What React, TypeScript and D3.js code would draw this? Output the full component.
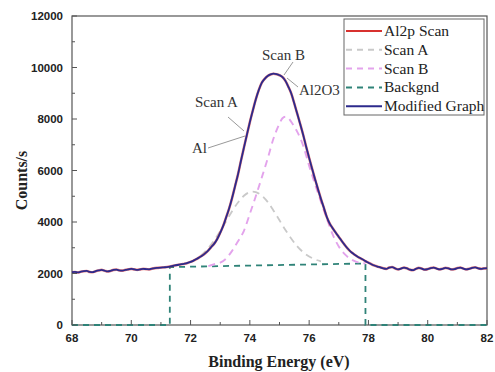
import React from "react";
import * as d3 from "d3";

// ---------- data ----------
const xTicks = [68, 70, 72, 74, 76, 78, 80, 82];
const yTicks = [0, 2000, 4000, 6000, 8000, 10000, 12000];

// Modified graph / Al2p scan: [binding energy (eV), counts/s]
const modifiedGraph: [number, number][] = [
  [68.0, 2050], [68.1, 2060], [68.2, 2040], [68.3, 2070], [68.4, 2090], [68.5, 2100], [68.6, 2060], [68.7, 2050], [68.8, 2090], [68.9, 2120],
  [69.0, 2140], [69.1, 2110], [69.2, 2080], [69.3, 2100], [69.4, 2140], [69.5, 2150], [69.6, 2120], [69.7, 2110], [69.8, 2140], [69.9, 2160],
  [70.0, 2180], [70.1, 2160], [70.2, 2140], [70.3, 2160], [70.4, 2180], [70.5, 2170], [70.6, 2160], [70.7, 2190], [70.8, 2210], [70.9, 2220],
  [71.0, 2230], [71.1, 2240], [71.2, 2250], [71.3, 2270], [71.4, 2300], [71.5, 2320], [71.6, 2340], [71.7, 2360], [71.8, 2380], [71.9, 2410],
  [72.0, 2450], [72.1, 2500], [72.2, 2560], [72.3, 2630], [72.4, 2700], [72.5, 2790], [72.6, 2900], [72.7, 3030], [72.8, 3160], [72.9, 3340],
  [73.0, 3580], [73.1, 3850], [73.2, 4180], [73.3, 4520], [73.4, 4930], [73.5, 5390], [73.6, 5850], [73.7, 6380], [73.8, 6890], [73.9, 7390],
  [74.0, 7880], [74.1, 8330], [74.2, 8760], [74.3, 9120], [74.4, 9400], [74.5, 9560], [74.6, 9670], [74.7, 9730], [74.8, 9760], [74.9, 9740],
  [75.0, 9700], [75.1, 9630], [75.2, 9480], [75.3, 9250], [75.4, 8980], [75.5, 8600], [75.6, 8200], [75.7, 7800], [75.8, 7380], [75.9, 6920],
  [76.0, 6490], [76.1, 6070], [76.2, 5660], [76.3, 5270], [76.4, 4890], [76.5, 4540], [76.6, 4180], [76.7, 3930], [76.8, 3750], [76.9, 3580],
  [77.0, 3420], [77.1, 3260], [77.2, 3110], [77.3, 2970], [77.4, 2850], [77.5, 2760], [77.6, 2680], [77.7, 2610], [77.8, 2550], [77.9, 2480],
  [78.0, 2420], [78.1, 2360], [78.2, 2310], [78.3, 2270], [78.4, 2240], [78.5, 2200], [78.6, 2180], [78.7, 2230], [78.8, 2250], [78.9, 2200],
  [79.0, 2160], [79.1, 2190], [79.2, 2230], [79.3, 2200], [79.4, 2150], [79.5, 2130], [79.6, 2180], [79.7, 2220], [79.8, 2190], [79.9, 2150],
  [80.0, 2170], [80.1, 2210], [80.2, 2230], [80.3, 2190], [80.4, 2160], [80.5, 2180], [80.6, 2220], [80.7, 2200], [80.8, 2160], [80.9, 2170],
  [81.0, 2210], [81.1, 2230], [81.2, 2190], [81.3, 2160], [81.4, 2180], [81.5, 2220], [81.6, 2240], [81.7, 2200], [81.8, 2180], [81.9, 2200],
  [82.0, 2210],
];

// Scan A (Al) component
const scanA: [number, number][] = [
  [72.0, 2450], [72.2, 2575], [72.4, 2750], [72.6, 2990], [72.8, 3290], [73.0, 3645], [73.2, 4030], [73.4, 4420], [73.6, 4760],
  [73.8, 5020], [74.0, 5160], [74.1, 5180], [74.2, 5160], [74.4, 5030], [74.6, 4780], [74.8, 4440], [75.0, 4065], [75.2, 3690],
  [75.4, 3350], [75.6, 3055], [75.8, 2825], [76.0, 2660], [76.2, 2545], [76.4, 2470],
];

// Scan B (Al2O3) component
const scanB: [number, number][] = [
  [72.6, 2290], [72.8, 2360], [73.0, 2420], [73.2, 2580], [73.4, 2880], [73.6, 3250], [73.8, 3660], [74.0, 4320], [74.2, 5000],
  [74.4, 5720], [74.6, 6460], [74.8, 7250], [75.0, 7820], [75.1, 8030], [75.2, 8090], [75.3, 8040], [75.4, 7880], [75.6, 7500],
  [75.8, 6960], [76.0, 6180], [76.2, 5465], [76.4, 4780], [76.6, 4120], [76.8, 3500], [77.0, 3050], [77.2, 2750], [77.4, 2560],
  [77.6, 2450], [77.8, 2400], [77.9, 2390],
];

// Background
const backgnd: [number, number][] = [
  [68.0, 0], [71.3, 0], [71.3, 2250], [77.9, 2390], [77.9, 0], [82.0, 0],
];

const legendItems = [
  { label: "Al2p Scan", color: "#d8312f", dash: "" },
  { label: "Scan A", color: "#c9c9c9", dash: "6,5" },
  { label: "Scan B", color: "#e3a3ec", dash: "6,5" },
  { label: "Backgnd", color: "#2f8378", dash: "6,5" },
  { label: "Modified Graph", color: "#2c2a8c", dash: "" },
];

// ---------- layout ----------
const W = 495;
const H = 372;
const left = 72;
const right = 487;
const top = 16;
const bottom = 325;

export default function App() {
  const x = d3.scaleLinear().domain([68, 82]).range([left, right]);
  const y = d3.scaleLinear().domain([0, 12000]).range([bottom, top]);
  const line = d3
    .line<[number, number]>()
    .x((d) => x(d[0]))
    .y((d) => y(d[1]))
    .curve(d3.curveMonotoneX);
  const lineStraight = d3
    .line<[number, number]>()
    .x((d) => x(d[0]))
    .y((d) => y(d[1]));

  const xMinor = d3.range(69, 82, 2);
  const yMinor = d3.range(1000, 12000, 2000);

  const tickFont = "Liberation Sans";
  const serif = "Liberation Serif";
  const axisColor = "#555";

  return (
    <svg
      width={W}
      height={H}
      style={{ position: "absolute", left: 0, top: 0, background: "#fff" }}
    >
      {/* frame */}
      <rect
        x={left}
        y={top}
        width={right - left}
        height={bottom - top}
        fill="none"
        stroke={axisColor}
        strokeWidth={1.2}
      />

      {/* background */}
      <path
        d={lineStraight(backgnd) || ""}
        fill="none"
        stroke="#2f8378"
        strokeWidth={1.8}
        strokeDasharray="6,5"
      />

      {/* Scan A */}
      <path
        d={line(scanA) || ""}
        fill="none"
        stroke="#c9c9c9"
        strokeWidth={1.8}
        strokeDasharray="7,5"
      />
      {/* Scan B */}
      <path
        d={line(scanB) || ""}
        fill="none"
        stroke="#e3a3ec"
        strokeWidth={1.9}
        strokeDasharray="7,5"
      />

      {/* Al2p scan (red) under modified graph */}
      <path
        d={line(modifiedGraph) || ""}
        fill="none"
        stroke="#d8312f"
        strokeWidth={2.6}
        strokeOpacity={0.6}
      />
      <path
        d={line(modifiedGraph) || ""}
        fill="none"
        stroke="#2c2a8c"
        strokeWidth={1.8}
      />

      {/* axes ticks */}
      {xTicks.map((t) => (
        <g key={"xt" + t}>
          <line x1={x(t)} x2={x(t)} y1={bottom} y2={bottom - 5} stroke={axisColor} strokeWidth={1} />
          <text
            x={x(t)}
            y={bottom + 17}
            textAnchor="middle"
            fontFamily={tickFont}
            fontWeight="bold"
            fontSize={11.5}
            fill="#222"
          >
            {t}
          </text>
        </g>
      ))}
      {xMinor.map((t) => (
        <line key={"xm" + t} x1={x(t)} x2={x(t)} y1={bottom} y2={bottom - 3} stroke={axisColor} strokeWidth={1} />
      ))}
      {yTicks.map((t) => (
        <g key={"yt" + t}>
          <line x1={left} x2={left + 5} y1={y(t)} y2={y(t)} stroke={axisColor} strokeWidth={1} />
          <text
            x={left - 9}
            y={y(t) + 4}
            textAnchor="end"
            fontFamily={tickFont}
            fontWeight="bold"
            fontSize={11.5}
            fill="#222"
          >
            {t}
          </text>
        </g>
      ))}
      {yMinor.map((t) => (
        <line key={"ym" + t} x1={left} x2={left + 3} y1={y(t)} y2={y(t)} stroke={axisColor} strokeWidth={1} />
      ))}

      {/* axis titles */}
      <text
        x={279}
        y={367}
        textAnchor="middle"
        fontFamily={serif}
        fontWeight="bold"
        fontSize={16}
        fill="#222"
      >
        Binding Energy (eV)
      </text>
      <text
        transform={`translate(27, ${(top + bottom) / 2 + 10}) rotate(-90)`}
        textAnchor="middle"
        fontFamily={serif}
        fontWeight="bold"
        fontSize={16}
        fill="#222"
      >
        Counts/s
      </text>

      {/* annotations */}
      <g fontFamily={serif} fontSize={15} fill="#333">
        <text x={262} y={60}>Scan B</text>
        <line x1={293} y1={62} x2={284} y2={75} stroke="#999" strokeWidth={1} />
        <text x={299} y={95}>Al2O3</text>
        <line x1={298} y1={87} x2={287} y2={78} stroke="#999" strokeWidth={1} />
        <text x={195} y={107}>Scan A</text>
        <line x1={228} y1={117} x2={244} y2={131} stroke="#999" strokeWidth={1} />
        <text x={192} y={153}>Al</text>
        <line x1={208} y1={148} x2={245} y2={136} stroke="#999" strokeWidth={1} />
      </g>

      {/* legend */}
      <rect x={344} y={19} width={140} height={96} fill="#fff" stroke="#666" strokeWidth={1} />
      {legendItems.map((it, i) => {
        const ly = 31 + i * 18.8;
        return (
          <g key={it.label}>
            <line
              x1={346}
              x2={382}
              y1={ly}
              y2={ly}
              stroke={it.color}
              strokeWidth={2}
              strokeDasharray={it.dash || undefined}
            />
            <text x={384} y={ly + 5} fontFamily={serif} fontSize={15.5} fill="#222">
              {it.label}
            </text>
          </g>
        );
      })}
    </svg>
  );
}
